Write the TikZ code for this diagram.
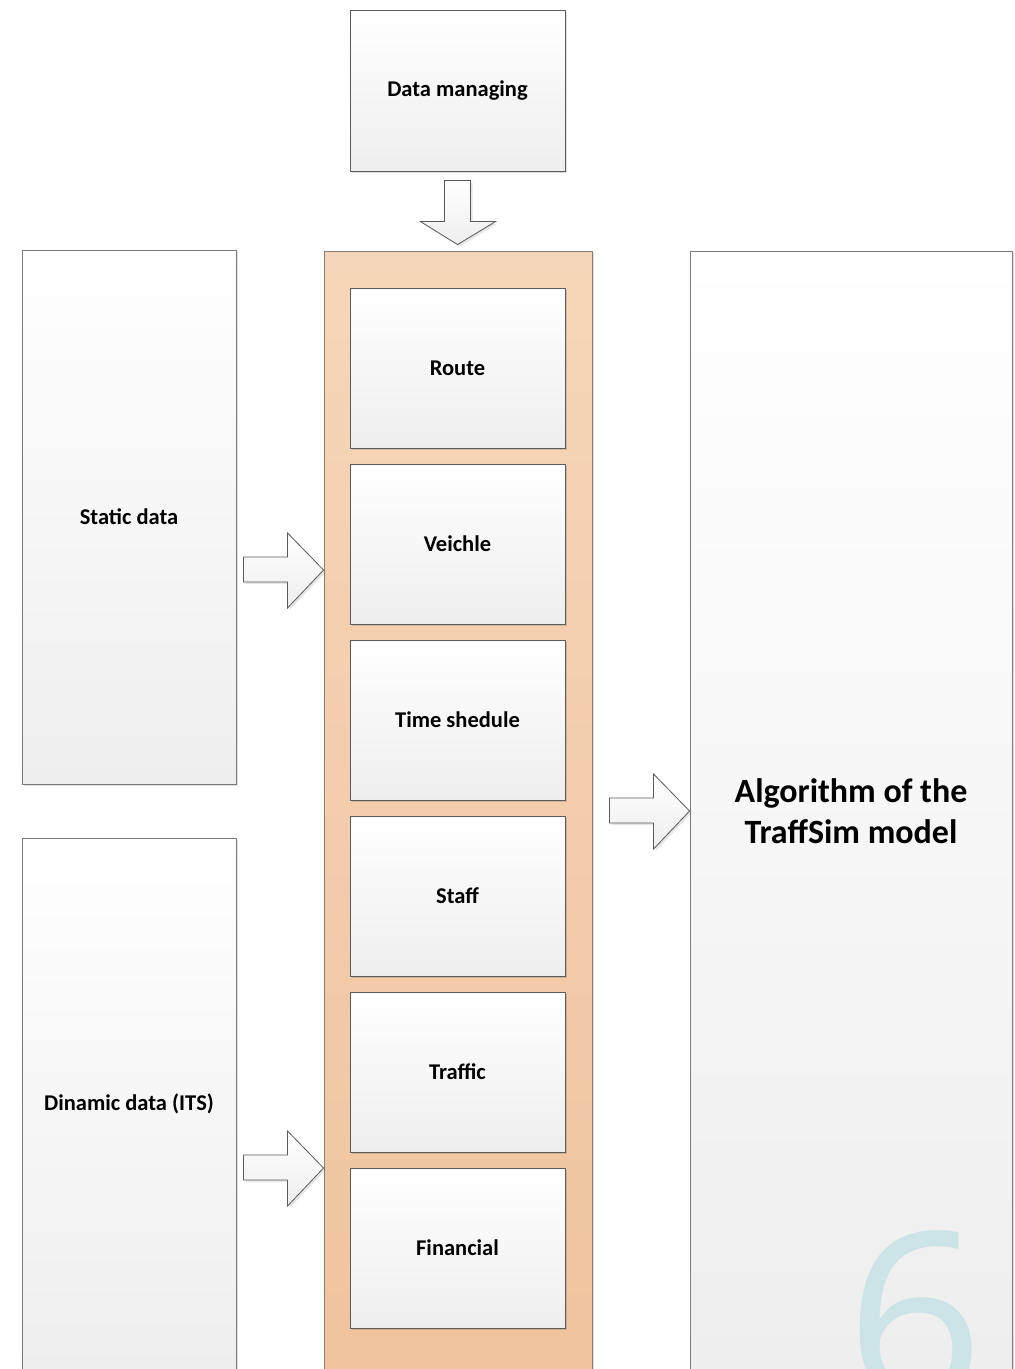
\documentclass[tikz,border=0pt]{standalone}
\usepackage{fontspec}
\setmainfont{Carlito}
\newfontfamily\sixfont{Open Sans}
\usetikzlibrary{shadows,calc}
\definecolor{boxedge}{HTML}{5A5A5A}
\definecolor{boxtop}{HTML}{FFFFFF}
\definecolor{boxbot}{HTML}{EEEEEE}
\definecolor{ortop}{HTML}{F6D6BA}
\definecolor{orbot}{HTML}{F0C39E}
\definecolor{oredge}{HTML}{8C7C70}
\definecolor{sixcol}{HTML}{CCE3E8}
\tikzset{
  gbox/.style={rectangle, draw=boxedge, line width=0.9pt, top color=boxtop, bottom color=boxbot,
    drop shadow={shadow xshift=2pt, shadow yshift=-2pt, fill=black, opacity=0.12},
    font=\bfseries\fontsize{22.5}{27}\selectfont, inner sep=0pt, align=center},
  bigbox/.style={rectangle, draw=boxedge!80, line width=0.9pt, top color=boxtop, bottom color=boxbot,
    drop shadow={shadow xshift=2pt, shadow yshift=-2pt, fill=black, opacity=0.12},
    inner sep=0pt, align=center},
  blockarrow/.style={draw=boxedge, line width=0.8pt, top color=boxtop, bottom color=boxbot,
    drop shadow={shadow xshift=2pt, shadow yshift=-2pt, fill=black, opacity=0.10}, line join=miter}
}
\begin{document}
\begin{tikzpicture}[x=1pt,y=-1pt]
\useasboundingbox (0,0) rectangle (1015,1369);
\clip (0,0) rectangle (1015,1369);
\fill[white] (0,0) rectangle (1015,1369);

% Data managing
\node[gbox, minimum width=215pt, minimum height=161pt] (dm) at (457.5,90.5) {Data managing};

% orange container
\node[rectangle, draw=oredge, line width=0.9pt, top color=ortop, bottom color=orbot,
  minimum width=268pt, minimum height=1130pt, inner sep=0pt,
  drop shadow={shadow xshift=2pt, shadow yshift=-2pt, fill=black, opacity=0.12}] (cont) at (458,816) {};

% inner boxes
\foreach \n/\t [count=\i from 0] in {route/Route, veh/Veichle, time/Time shedule, staff/Staff, traffic/Traffic, fin/Financial}{
  \node[gbox, minimum width=215pt, minimum height=160pt] (\n) at (457.5,368+176*\i) {\t};
}

% static / dynamic
\node[bigbox, font=\bfseries\fontsize{22.5}{27}\selectfont, minimum width=214pt, minimum height=534pt] (static) at (129,517) {Static data};
\node[bigbox, font=\bfseries\fontsize{22.5}{27}\selectfont, minimum width=214pt, minimum height=532pt] (dyn) at (129,1104) {Dinamic data (ITS)};

% algorithm box
\node[bigbox, minimum width=322pt, minimum height=1120pt] (alg) at (851,811) {};
\node[font=\sixfont\fontsize{240}{240}\selectfont, text=sixcol, anchor=base] (six) at (915,1404) {6};
\node[font=\bfseries\fontsize{34}{41}\selectfont, align=center] (algt) at (alg.center) {Algorithm of the\\TraffSim model};

% down arrow from Data managing to container
\coordinate (dtip) at ($(dm.south |- cont.north)+(0,-6)$);
\draw[blockarrow] ($(dtip)+(-13,-64)$) -- ($(dtip)+(13,-64)$) -- ($(dtip)+(13,-23)$) -- ($(dtip)+(38,-23)$)
  -- (dtip) -- ($(dtip)+(-37,-23)$) -- ($(dtip)+(-13,-23)$) -- cycle;

% right arrows into container
\coordinate (t1) at (cont.west |- 0,570);
\coordinate (t2) at (cont.west |- 0,1168);
\coordinate (t3) at (alg.west |- 0,811);
\foreach \t in {t1,t2,t3}{
  \draw[blockarrow] ($(\t)+(-80,-13)$) -- ($(\t)+(-36,-13)$) -- ($(\t)+(-36,-37)$) -- (\t)
    -- ($(\t)+(-36,38)$) -- ($(\t)+(-36,12)$) -- ($(\t)+(-80,12)$) -- cycle;
}
\end{tikzpicture}
\end{document}
